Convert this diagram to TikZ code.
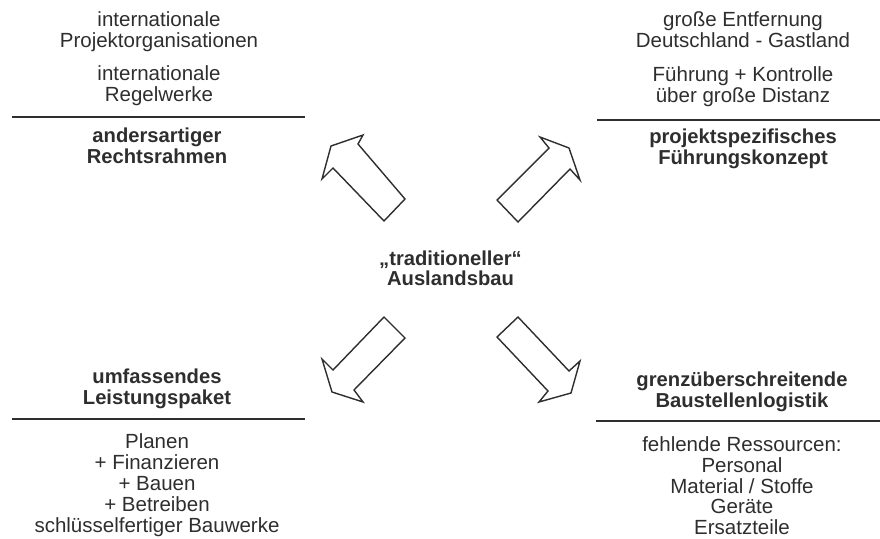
\documentclass[tikz,border=0pt]{standalone}
\usepackage{fontspec}
\setmainfont{Liberation Sans}
\definecolor{ink}{HTML}{2E2E2E}
\begin{document}
\begin{tikzpicture}[x=1pt, y=-1pt,
  % multi-line nodes: the base anchor sits on the last line's baseline
  txt/.style={anchor=base, inner sep=0pt, align=center, text=ink,
    font=\fontsize{20.5}{21}\selectfont},
  head/.style={txt, font=\fontsize{20.2}{21}\selectfont\bfseries},
  divider/.style={draw=ink, line width=1.8pt},
  blockarrow/.style={draw=ink, fill=white, line width=1.4pt, line join=miter}]
\useasboundingbox (0,0) rectangle (880,538);

% upper left: legal framework
\node[txt]  (tlA) at (159,47)  {internationale\\Projektorganisationen};
\node[txt]  (tlB) at (159,101) {internationale\\Regelwerke};
\node[head] (tlH) at (157,163) {andersartiger\\Rechtsrahmen};
\coordinate (tlL) at (12,117);
\coordinate (tlR) at (305,117);
\draw[divider] (tlL) -- (tlR);

% upper right: management concept
\node[txt]  (trA) at (743,47.5)  {große Entfernung\\Deutschland - Gastland};
\node[txt]  (trB) at (743,102.5) {Führung + Kontrolle\\über große Distanz};
\node[head] (trH) at (743,164)   {projektspezifisches\\Führungskonzept};
\coordinate (trL) at (597,120);
\coordinate (trR) at (880,120);
\draw[divider] (trL) -- (trR);

% centre
\node[head, font=\fontsize{20.2}{20}\selectfont\bfseries] (mid) at (450.5,285)
  {„traditioneller“\\Auslandsbau};

% lower left: scope of services
\node[head] (blH) at (157,404) {umfassendes\\Leistungspaket};
\coordinate (blL) at (12,419);
\coordinate (blR) at (305,419);
\draw[divider] (blL) -- (blR);
\node[txt]  (blA) at (157,532)
  {Planen\\+ Finanzieren\\+ Bauen\\+ Betreiben\\schlüsselfertiger Bauwerke};

% lower right: cross-border logistics
\node[head] (brH) at (742,407) {grenzüberschreitende\\Baustellenlogistik};
\coordinate (brL) at (596,421);
\coordinate (brR) at (880,421);
\draw[divider] (brL) -- (brR);
\node[txt, font=\fontsize{20.5}{20.7}\selectfont] (brA) at (742,534.5)
  {fehlende Ressourcen:\\Personal\\Material / Stoffe\\Geräte\\Ersatzteile};

% block arrows pointing outwards from the centre
\draw[blockarrow] (331,146) -- (363,135) -- (358,144) -- (405,199)
  -- (384,221) -- (333,168) -- (322,179) -- cycle;
\draw[blockarrow] (569,148) -- (580,180) -- (570,169) -- (518,222)
  -- (497,200) -- (549,148) -- (540,137) -- cycle;
\draw[blockarrow] (332,392) -- (322,359) -- (333,370) -- (384,317)
  -- (405,338) -- (354,390) -- (363,402) -- cycle;
\draw[blockarrow] (571,393) -- (539,402) -- (548,391) -- (497,337)
  -- (518,317) -- (569,371) -- (580,361) -- cycle;
\end{tikzpicture}
\end{document}
